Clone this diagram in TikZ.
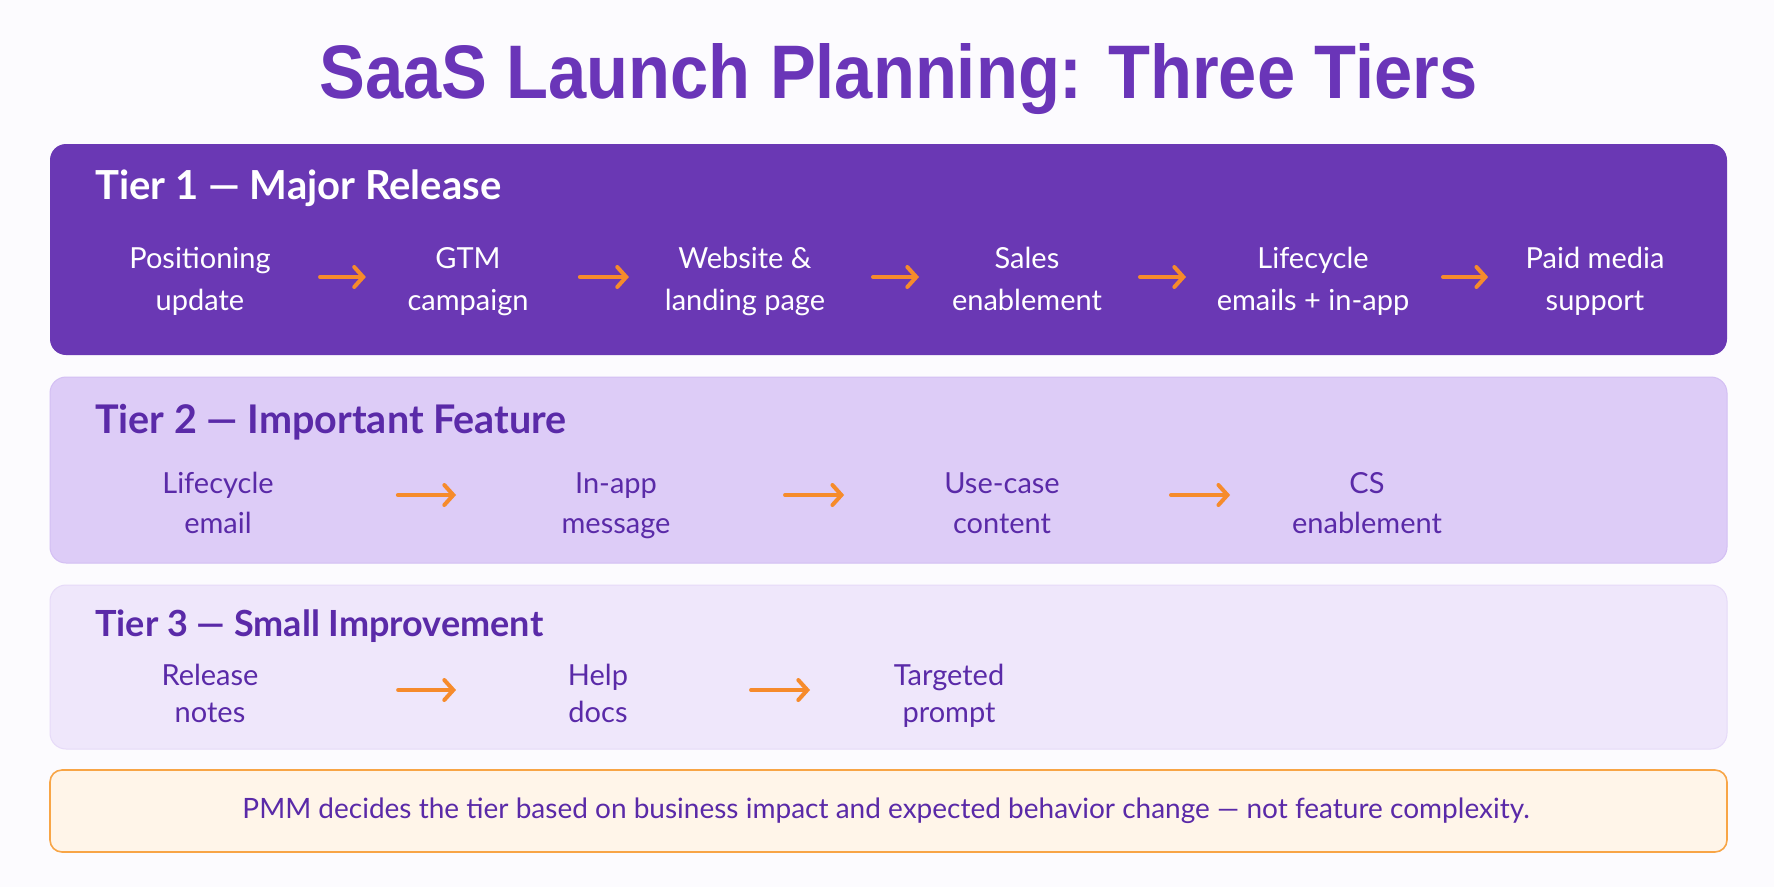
\documentclass[tikz,border=0pt]{standalone}
\usepackage{fontspec}
\setmainfont{Lato}
\newfontfamily\titlefont{Liberation Sans}
\usetikzlibrary{arrows.meta,calc}
\definecolor{bgc}{HTML}{FCFBFE}
\definecolor{titlec}{HTML}{6A35B8}
\definecolor{tierone}{HTML}{6A38B4}
\definecolor{tiertwo}{HTML}{DDCCF7}
\definecolor{tiertwoline}{HTML}{D3BFF3}
\definecolor{tierthree}{HTML}{EFE7FB}
\definecolor{tierthreeline}{HTML}{E6DAF8}
\definecolor{darktext}{HTML}{5A2AA8}
\definecolor{notefill}{HTML}{FFF5E9}
\definecolor{noteline}{HTML}{F8A546}
\definecolor{arrowc}{HTML}{F68B2B}
\tikzset{
  tierbox/.style={rounded corners=16pt, minimum width=1677pt, inner sep=0pt},
  head/.style={anchor=west, inner sep=0pt},
  item/.style={align=center, inner sep=0pt,
    execute at begin node={\strut}, execute at end node={\strut}},
  arr/.style={draw=arrowc, line width=4pt, line cap=round, line join=round,
    -{Straight Barb[length=9pt,width=20pt,line cap=round]}},
}
\begin{document}
\begin{tikzpicture}[x=1pt,y=-1pt]
\fill[bgc] (0,0) rectangle (1774,887);
\useasboundingbox (0,0) rectangle (1774,887);

\node[text=titlec, inner sep=0pt, anchor=base] (title) at (898.5,98)
  {\resizebox{1157pt}{55pt}{\titlefont\bfseries SaaS Launch Planning: Three Tiers}};

% Tier 1
\node[tierbox, fill=tierone, minimum height=211pt] (t1) at (888.5,249.5) {};
\node[head, text=white, font=\fontsize{40}{44}\selectfont\bfseries] (h1) at (95,188) {Tier 1 — Major Release};
\tikzset{rowone/.style={item, text=white, font=\fontsize{29}{42}\selectfont}}
\node[rowone] (a1) at (200,285) {Positioning\\update};
\node[rowone] (a2) at (468,285) {GTM\\campaign};
\node[rowone] (a3) at (745,285) {Website \&\\landing page};
\node[rowone] (a4) at (1027,285) {Sales\\enablement};
\node[rowone] (a5) at (1313,285) {Lifecycle\\emails + in-app};
\node[rowone] (a6) at (1595,285) {Paid media\\support};
\draw[arr] ($(a1)!0.448!(a2)+(0,-8)$) -- ($(a1)!0.619!(a2)+(0,-8)$);
\draw[arr] ($(a2)!0.404!(a3)+(0,-8)$) -- ($(a2)!0.581!(a3)+(0,-8)$);
\draw[arr] ($(a3)!0.454!(a4)+(0,-8)$) -- ($(a3)!0.617!(a4)+(0,-8)$);
\draw[arr] ($(a4)!0.395!(a5)+(0,-8)$) -- ($(a4)!0.556!(a5)+(0,-8)$);
\draw[arr] ($(a5)!0.461!(a6)+(0,-8)$) -- ($(a5)!0.621!(a6)+(0,-8)$);

% Tier 2
\node[tierbox, fill=tiertwo, draw=tiertwoline, line width=1pt, minimum height=186pt] (t2) at (888.5,470) {};
\node[head, text=darktext, font=\fontsize{39.5}{44}\selectfont\bfseries] (h2) at (95,422) {Tier 2 — Important Feature};
\tikzset{rowtwo/.style={item, text=darktext, font=\fontsize{29}{40}\selectfont}}
\node[rowtwo] (b1) at (218,509) {Lifecycle\\email};
\node[rowtwo] (b2) at (616,509) {In-app\\message};
\node[rowtwo] (b3) at (1002,509) {Use-case\\content};
\node[rowtwo] (b4) at (1367,509) {CS\\enablement};
\draw[arr] ($(b1)!0.452!(b2)+(0,-14)$) -- ($(b1)!0.598!(b2)+(0,-14)$);
\draw[arr] ($(b2)!0.438!(b3)+(0,-14)$) -- ($(b2)!0.591!(b3)+(0,-14)$);
\draw[arr] ($(b3)!0.463!(b4)+(0,-14)$) -- ($(b3)!0.625!(b4)+(0,-14)$);

% Tier 3
\node[tierbox, fill=tierthree, draw=tierthreeline, line width=1pt, minimum height=164pt] (t3) at (888.5,667) {};
\node[head, text=darktext, font=\fontsize{36}{40}\selectfont\bfseries] (h3) at (95,626) {Tier 3 — Small Improvement};
\tikzset{rowthree/.style={item, text=darktext, font=\fontsize{29}{37}\selectfont}}
\node[rowthree] (c1) at (210,699) {Release\\notes};
\node[rowthree] (c2) at (598,699) {Help\\docs};
\node[rowthree] (c3) at (949,699) {Targeted\\prompt};
\draw[arr] ($(c1)!0.485!(c2)+(0,-9)$) -- ($(c1)!0.634!(c2)+(0,-9)$);
\draw[arr] ($(c2)!0.436!(c3)+(0,-9)$) -- ($(c2)!0.604!(c3)+(0,-9)$);

% Note
\node[tierbox, fill=notefill, draw=noteline, line width=1.6pt, minimum height=82pt, rounded corners=12pt] (note) at (888.5,811) {};
\node[text=darktext, inner sep=0pt, font=\fontsize{28}{32}\selectfont] (notetext) at (886,811)
  {PMM decides the tier based on business impact and expected behavior change — not feature complexity.};
\end{tikzpicture}
\end{document}
